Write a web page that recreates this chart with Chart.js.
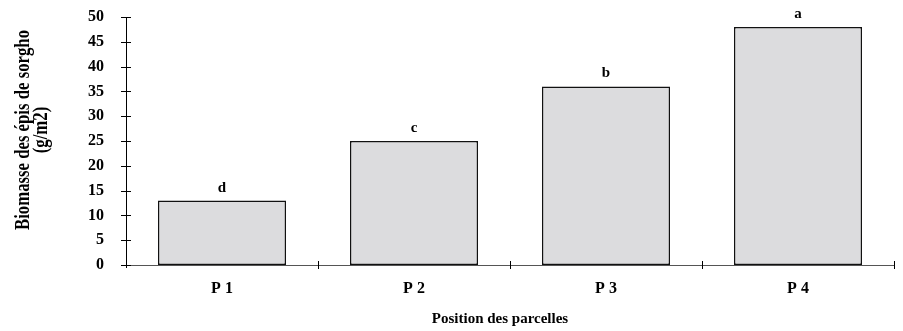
<!DOCTYPE html>
<html>
<head>
<meta charset="utf-8">
<script src="https://cdn.jsdelivr.net/npm/chart.js@4/dist/chart.umd.min.js"></script>
<style>
  html, body { margin: 0; padding: 0; background: #fff; }
  #wrap { width: 903px; height: 331px; }
</style>
</head>
<body>
<div id="wrap"><canvas id="c" width="903" height="331"></canvas></div>
<script>
// Sorghum ear biomass by plot position
const plots = ['P 1', 'P 2', 'P 3', 'P 4'];
const biomass = [13, 25, 36, 48];
const groupLetters = ['d', 'c', 'b', 'a'];
const yTitleLines = ['Biomasse des épis de sorgho', '(g/m2)'];
const xTitle = 'Position des parcelles';

const SERIF = '"Liberation Serif", "Times New Roman", serif';

// Tick marks crossing both axes, significance letters, rotated y title
const decorations = {
  id: 'decorations',
  afterDraw(chart) {
    const ctx = chart.ctx;
    const x = chart.scales.x, y = chart.scales.y;
    const area = chart.chartArea;
    ctx.save();
    ctx.strokeStyle = '#000';
    ctx.lineWidth = 1;
    // y axis runs a little past zero
    ctx.beginPath();
    ctx.moveTo(area.left + 0.5, area.bottom);
    ctx.lineTo(area.left + 0.5, area.bottom + 3);
    ctx.stroke();
    // y ticks
    y.ticks.forEach(t => {
      const py = Math.round(y.getPixelForValue(t.value)) + 0.5;
      ctx.beginPath();
      ctx.moveTo(area.left - 5, py);
      ctx.lineTo(area.left + 5, py);
      ctx.stroke();
    });
    // x ticks at category boundaries
    for (let i = 0; i < plots.length; i++) {
      const px = Math.round(i < plots.length - 1
        ? (x.getPixelForValue(i) + x.getPixelForValue(i + 1)) / 2
        : area.right) + 0.5;
      ctx.beginPath();
      ctx.moveTo(px, area.bottom - 4);
      ctx.lineTo(px, area.bottom + 4);
      ctx.stroke();
    }
    // letters above bars
    ctx.fillStyle = '#000';
    ctx.font = 'bold 15px ' + SERIF;
    ctx.textAlign = 'center';
    ctx.textBaseline = 'alphabetic';
    const meta = chart.getDatasetMeta(0);
    meta.data.forEach((bar, i) => {
      ctx.fillText(groupLetters[i], bar.x, bar.y - 9);
    });
    // y title, two rotated lines, condensed to a 200px run
    const cy = 130;
    ctx.font = 'bold 21px ' + SERIF;
    const squeeze = 200 / ctx.measureText(yTitleLines[0]).width;
    const lineX = [29, 47];
    yTitleLines.forEach((txt, i) => {
      ctx.save();
      ctx.translate(lineX[i], cy);
      ctx.rotate(-Math.PI / 2);
      ctx.scale(squeeze, 1);
      ctx.fillText(txt, 0, 0);
      ctx.restore();
    });
    // x title
    ctx.font = 'bold 15px ' + SERIF;
    ctx.fillText(xTitle, 500, 323);
    ctx.restore();
  }
};

new Chart(document.getElementById('c'), {
  type: 'bar',
  data: {
    labels: plots,
    datasets: [{
      data: biomass,
      backgroundColor: '#dcdcde',
      borderColor: '#111',
      borderWidth: 1.5,
      borderSkipped: false,
      barPercentage: 0.667,
      categoryPercentage: 1
    }]
  },
  options: {
    responsive: false,
    animation: false,
    layout: { padding: { left: 0, right: 9, top: 17, bottom: 0 } },
    plugins: { legend: { display: false }, tooltip: { enabled: false } },
    scales: {
      x: {
        grid: { display: false, drawTicks: false },
        border: { display: true, color: '#555', width: 1 },
        ticks: { color: '#000', font: { family: SERIF, size: 16, weight: 'bold' }, padding: 14 },
        afterFit(s) { s.height = 66; s.paddingLeft = 0; s.paddingRight = 0; }
      },
      y: {
        min: 0, max: 50,
        grid: { display: false, drawTicks: false },
        border: { display: true, color: '#000', width: 1 },
        ticks: { stepSize: 5, color: '#000', font: { family: SERIF, size: 16, weight: 'bold' }, padding: 22 },
        afterFit(s) { s.width = 126; s.paddingTop = 0; s.paddingBottom = 0; }
      }
    }
  },
  plugins: [decorations]
});
</script>
</body>
</html>
